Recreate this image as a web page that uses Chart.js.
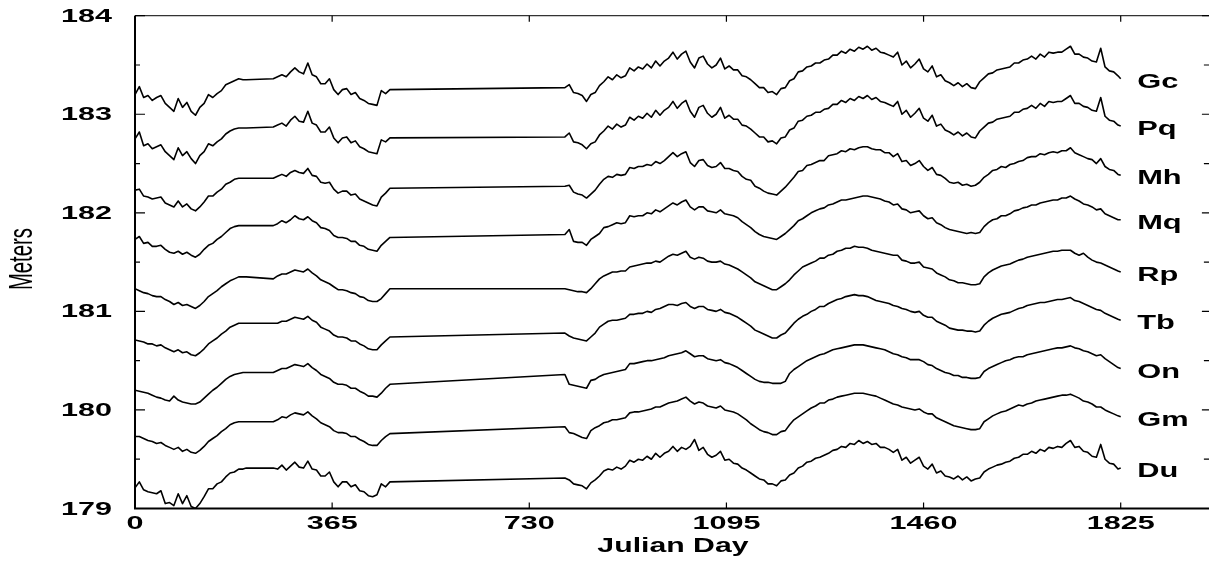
<!DOCTYPE html>
<html>
<head>
<meta charset="utf-8">
<title>Lake levels by station</title>
<script src="https://cdn.jsdelivr.net/npm/chart.js@4.4.1/dist/chart.umd.min.js"></script>
<style>
  html, body { margin: 0; padding: 0; background: #fff; overflow: hidden; }
  canvas { display: block; }
</style>
</head>
<body>
<canvas id="levels" width="1212" height="561"></canvas>
<script>
// sample days; the two holes in the record (207-255, 473-795) are bridged by straight lines
const days = [
  0, 8, 16, 24, 32, 40, 48, 56, 64, 72, 80, 88, 96, 104, 112, 120, 128, 136, 144, 152, 160, 168, 176, 184, 192, 200, 206,
  256, 264, 272, 280, 288, 296, 304, 312, 320, 328, 336, 344, 352, 360, 368, 376, 384, 392, 400, 408, 416, 424, 432, 440, 448, 456, 464, 472,
  796, 804, 812, 820, 828, 836, 844, 852, 860, 868,
  876, 884, 892, 900, 908, 916, 924, 932, 940, 948,
  956, 964, 972, 980, 988, 996, 1004, 1012, 1020, 1028,
  1036, 1044, 1052, 1060, 1068, 1076, 1084, 1092, 1100, 1108,
  1116, 1124, 1132, 1140, 1148, 1156, 1164, 1172, 1180, 1188,
  1196, 1204, 1212, 1220, 1228, 1236, 1244, 1252, 1260, 1268,
  1276, 1284, 1292, 1300, 1308, 1316, 1324, 1332, 1340, 1348,
  1356, 1364, 1372, 1380, 1388, 1396, 1404, 1412, 1420, 1428,
  1436, 1444, 1452, 1460, 1468, 1476, 1484, 1492, 1500, 1508,
  1516, 1524, 1532, 1540, 1548, 1556, 1564, 1572, 1580, 1588,
  1596, 1604, 1612, 1620, 1628, 1636, 1644, 1652, 1660, 1668,
  1676, 1684, 1692, 1700, 1708, 1716, 1724, 1732, 1740, 1748,
  1756, 1764, 1772, 1780, 1788, 1796, 1804, 1812, 1820, 1825
];

// water level in meters at each station, same sample days
const Gc = [
  183.20, 183.28, 183.17, 183.19, 183.14, 183.17, 183.19, 183.11, 183.07, 183.03, 183.16, 183.07, 183.12, 183.03, 182.99, 183.07, 183.11, 183.20, 183.17, 183.21, 183.24, 183.30, 183.32, 183.34, 183.36, 183.35, 183.35,
  183.36, 183.38, 183.40, 183.38, 183.43, 183.47, 183.43, 183.41, 183.52, 183.40, 183.38, 183.31, 183.31, 183.36, 183.25, 183.20, 183.25, 183.26, 183.20, 183.22, 183.16, 183.14, 183.11, 183.10, 183.09, 183.24, 183.21, 183.25,
  183.27, 183.30, 183.22, 183.21, 183.19, 183.13, 183.20, 183.22, 183.29, 183.33,
  183.38, 183.35, 183.40, 183.37, 183.39, 183.47, 183.44, 183.48, 183.46, 183.51,
  183.47, 183.54, 183.49, 183.54, 183.57, 183.63, 183.56, 183.61, 183.64, 183.53,
  183.47, 183.57, 183.59, 183.51, 183.47, 183.50, 183.57, 183.46, 183.49, 183.45,
  183.45, 183.39, 183.38, 183.35, 183.31, 183.27, 183.27, 183.22, 183.23, 183.20,
  183.26, 183.27, 183.34, 183.36, 183.43, 183.44, 183.48, 183.49, 183.52, 183.52,
  183.55, 183.56, 183.60, 183.60, 183.64, 183.62, 183.66, 183.64, 183.68, 183.66,
  183.69, 183.65, 183.67, 183.63, 183.62, 183.60, 183.58, 183.63, 183.50, 183.54,
  183.47, 183.51, 183.56, 183.46, 183.43, 183.49, 183.38, 183.40, 183.34, 183.32,
  183.29, 183.32, 183.28, 183.31, 183.27, 183.26, 183.33, 183.37, 183.41, 183.42,
  183.45, 183.46, 183.47, 183.48, 183.52, 183.52, 183.55, 183.56, 183.59, 183.56,
  183.61, 183.58, 183.63, 183.62, 183.63, 183.63, 183.66, 183.69, 183.61, 183.61,
  183.58, 183.57, 183.54, 183.53, 183.67, 183.48, 183.44, 183.43, 183.39, 183.36
];
const Pq = [
  182.75, 182.82, 182.68, 182.70, 182.65, 182.67, 182.69, 182.62, 182.58, 182.54, 182.66, 182.58, 182.62, 182.55, 182.50, 182.58, 182.62, 182.70, 182.68, 182.72, 182.75, 182.80, 182.83, 182.85, 182.86, 182.86, 182.86,
  182.87, 182.89, 182.91, 182.88, 182.94, 182.98, 182.93, 182.92, 183.03, 182.91, 182.89, 182.82, 182.82, 182.87, 182.76, 182.71, 182.76, 182.77, 182.71, 182.73, 182.67, 182.65, 182.62, 182.61, 182.60, 182.74, 182.72, 182.76,
  182.77, 182.81, 182.72, 182.71, 182.69, 182.65, 182.70, 182.72, 182.79, 182.83,
  182.88, 182.85, 182.90, 182.87, 182.89, 182.97, 182.94, 182.98, 182.96, 183.01,
  182.97, 183.04, 182.99, 183.04, 183.07, 183.13, 183.06, 183.11, 183.14, 183.03,
  182.97, 183.07, 183.09, 183.01, 182.97, 183.00, 183.07, 182.96, 182.99, 182.95,
  182.95, 182.89, 182.88, 182.85, 182.81, 182.77, 182.77, 182.72, 182.73, 182.70,
  182.76, 182.77, 182.84, 182.86, 182.93, 182.94, 182.98, 182.99, 183.02, 183.02,
  183.05, 183.06, 183.10, 183.10, 183.14, 183.12, 183.16, 183.14, 183.18, 183.16,
  183.19, 183.15, 183.17, 183.13, 183.12, 183.10, 183.08, 183.13, 183.00, 183.04,
  182.97, 183.01, 183.06, 182.96, 182.93, 182.99, 182.88, 182.90, 182.84, 182.82,
  182.79, 182.82, 182.78, 182.81, 182.77, 182.76, 182.83, 182.87, 182.91, 182.92,
  182.95, 182.96, 182.97, 182.98, 183.02, 183.02, 183.05, 183.06, 183.09, 183.06,
  183.11, 183.08, 183.13, 183.12, 183.13, 183.13, 183.16, 183.19, 183.11, 183.11,
  183.08, 183.07, 183.04, 183.03, 183.17, 182.98, 182.94, 182.93, 182.89, 182.88
];
const Mh = [
  182.23, 182.24, 182.17, 182.16, 182.14, 182.15, 182.16, 182.10, 182.08, 182.06, 182.12, 182.06, 182.09, 182.04, 182.02, 182.06, 182.11, 182.17, 182.17, 182.21, 182.24, 182.29, 182.31, 182.34, 182.35, 182.35, 182.35,
  182.35, 182.37, 182.39, 182.37, 182.41, 182.43, 182.41, 182.40, 182.45, 182.38, 182.37, 182.31, 182.30, 182.31, 182.24, 182.20, 182.22, 182.22, 182.18, 182.19, 182.14, 182.12, 182.10, 182.08, 182.07, 182.16, 182.20, 182.25,
  182.27, 182.28, 182.21, 182.19, 182.18, 182.15, 182.19, 182.23, 182.29, 182.34,
  182.37, 182.36, 182.39, 182.38, 182.39, 182.46, 182.45, 182.47, 182.47, 182.49,
  182.48, 182.52, 182.50, 182.53, 182.57, 182.61, 182.57, 182.60, 182.62, 182.51,
  182.47, 182.53, 182.54, 182.48, 182.46, 182.47, 182.51, 182.45, 182.45, 182.43,
  182.42, 182.37, 182.34, 182.33, 182.27, 182.25, 182.22, 182.20, 182.19, 182.18,
  182.22, 182.26, 182.31, 182.36, 182.42, 182.43, 182.48, 182.49, 182.51, 182.53,
  182.53, 182.58, 182.59, 182.60, 182.63, 182.62, 182.65, 182.64, 182.66, 182.67,
  182.67, 182.65, 182.64, 182.64, 182.61, 182.61, 182.57, 182.60, 182.52, 182.53,
  182.48, 182.50, 182.53, 182.47, 182.43, 182.46, 182.39, 182.38, 182.35, 182.31,
  182.30, 182.31, 182.28, 182.29, 182.27, 182.28, 182.31, 182.36, 182.39, 182.43,
  182.44, 182.47, 182.46, 182.49, 182.50, 182.52, 182.53, 182.56, 182.57, 182.57,
  182.60, 182.59, 182.61, 182.62, 182.61, 182.63, 182.63, 182.66, 182.61, 182.59,
  182.57, 182.55, 182.54, 182.50, 182.55, 182.47, 182.44, 182.43, 182.39, 182.38
];
const Mq = [
  181.73, 181.76, 181.69, 181.70, 181.66, 181.66, 181.67, 181.63, 181.60, 181.59, 181.61, 181.58, 181.60, 181.57, 181.55, 181.58, 181.63, 181.67, 181.69, 181.73, 181.76, 181.80, 181.84, 181.86, 181.87, 181.87, 181.87,
  181.87, 181.89, 181.92, 181.90, 181.93, 181.97, 181.94, 181.93, 181.96, 181.92, 181.90, 181.85, 181.84, 181.82, 181.77, 181.75, 181.75, 181.74, 181.71, 181.71, 181.67, 181.66, 181.63, 181.62, 181.61, 181.67, 181.71, 181.75,
  181.78, 181.83, 181.71, 181.70, 181.70, 181.67, 181.73, 181.76, 181.79, 181.85,
  181.86, 181.88, 181.90, 181.89, 181.90, 181.97, 181.96, 181.97, 181.97, 182.00,
  181.99, 182.03, 182.01, 182.04, 182.07, 182.10, 182.08, 182.11, 182.13, 182.06,
  182.03, 182.06, 182.06, 182.02, 182.01, 182.00, 182.03, 181.99, 181.98, 181.97,
  181.95, 181.91, 181.88, 181.85, 181.81, 181.78, 181.76, 181.75, 181.74, 181.73,
  181.76, 181.79, 181.83, 181.87, 181.92, 181.94, 181.97, 182.00, 182.02, 182.04,
  182.05, 182.08, 182.09, 182.11, 182.13, 182.13, 182.14, 182.15, 182.16, 182.17,
  182.17, 182.16, 182.15, 182.14, 182.12, 182.11, 182.08, 182.09, 182.04, 182.03,
  182.00, 182.01, 182.02, 181.97, 181.94, 181.95, 181.90, 181.88, 181.85, 181.83,
  181.82, 181.81, 181.80, 181.79, 181.80, 181.79, 181.80, 181.86, 181.90, 181.93,
  181.94, 181.97, 181.97, 181.99, 182.02, 182.03, 182.05, 182.06, 182.08, 182.08,
  182.10, 182.11, 182.12, 182.13, 182.13, 182.15, 182.15, 182.17, 182.14, 182.12,
  182.09, 182.08, 182.06, 182.03, 182.04, 181.99, 181.97, 181.95, 181.93, 181.93
];
const Rp = [
  181.23, 181.21, 181.19, 181.18, 181.16, 181.15, 181.15, 181.12, 181.10, 181.07, 181.09, 181.06, 181.07, 181.05, 181.03, 181.06, 181.10, 181.15, 181.18, 181.21, 181.25, 181.28, 181.31, 181.33, 181.35, 181.35, 181.35,
  181.33, 181.36, 181.38, 181.38, 181.40, 181.42, 181.41, 181.40, 181.43, 181.39, 181.36, 181.32, 181.30, 181.28, 181.25, 181.22, 181.22, 181.21, 181.19, 181.18, 181.15, 181.14, 181.11, 181.10, 181.10, 181.13, 181.18, 181.23,
  181.23, 181.22, 181.21, 181.20, 181.20, 181.19, 181.23, 181.28, 181.33, 181.36,
  181.38, 181.40, 181.40, 181.41, 181.41, 181.45, 181.46, 181.47, 181.48, 181.49,
  181.49, 181.51, 181.50, 181.53, 181.56, 181.58, 181.57, 181.59, 181.61, 181.55,
  181.53, 181.55, 181.54, 181.51, 181.50, 181.50, 181.51, 181.48, 181.47, 181.45,
  181.43, 181.40, 181.37, 181.34, 181.30, 181.28, 181.26, 181.24, 181.22, 181.22,
  181.25, 181.28, 181.32, 181.37, 181.41, 181.45, 181.47, 181.49, 181.51, 181.54,
  181.54, 181.57, 181.58, 181.61, 181.62, 181.64, 181.64, 181.66, 181.65, 181.65,
  181.64, 181.62, 181.61, 181.60, 181.59, 181.58, 181.57, 181.57, 181.52, 181.51,
  181.49, 181.49, 181.50, 181.45, 181.44, 181.43, 181.39, 181.37, 181.35, 181.32,
  181.31, 181.29, 181.29, 181.28, 181.27, 181.27, 181.28, 181.35, 181.39, 181.42,
  181.44, 181.46, 181.47, 181.48, 181.50, 181.52, 181.53, 181.55, 181.56, 181.57,
  181.58, 181.59, 181.60, 181.61, 181.61, 181.62, 181.62, 181.62, 181.59, 181.57,
  181.59, 181.55, 181.52, 181.50, 181.49, 181.47, 181.45, 181.43, 181.41, 181.40
];
const Tb = [
  180.71, 180.70, 180.69, 180.67, 180.67, 180.65, 180.66, 180.63, 180.61, 180.59, 180.61, 180.58, 180.59, 180.56, 180.55, 180.58, 180.62, 180.67, 180.70, 180.73, 180.77, 180.80, 180.84, 180.86, 180.88, 180.88, 180.88,
  180.88, 180.88, 180.90, 180.90, 180.92, 180.94, 180.93, 180.92, 180.95, 180.91, 180.89, 180.84, 180.82, 180.80, 180.76, 180.74, 180.74, 180.73, 180.70, 180.70, 180.67, 180.65, 180.62, 180.61, 180.61, 180.66, 180.70, 180.74,
  180.78, 180.75, 180.73, 180.72, 180.71, 180.70, 180.74, 180.78, 180.84, 180.87,
  180.90, 180.91, 180.91, 180.92, 180.93, 180.97, 180.97, 180.98, 180.98, 181.00,
  180.99, 181.02, 181.03, 181.05, 181.07, 181.07, 181.06, 181.08, 181.09, 181.05,
  181.03, 181.05, 181.05, 181.02, 181.01, 181.00, 181.02, 180.99, 180.98, 180.96,
  180.94, 180.91, 180.88, 180.85, 180.81, 180.79, 180.77, 180.75, 180.73, 180.73,
  180.76, 180.78, 180.83, 180.88, 180.92, 180.95, 180.97, 181.00, 181.02, 181.05,
  181.05, 181.08, 181.10, 181.12, 181.13, 181.15, 181.16, 181.17, 181.16, 181.16,
  181.15, 181.13, 181.11, 181.10, 181.09, 181.08, 181.06, 181.05, 181.03, 181.02,
  181.00, 180.99, 181.00, 180.96, 180.94, 180.94, 180.90, 180.88, 180.86, 180.83,
  180.82, 180.81, 180.81, 180.80, 180.80, 180.79, 180.80, 180.86, 180.90, 180.93,
  180.95, 180.97, 180.98, 180.99, 181.01, 181.03, 181.04, 181.06, 181.07, 181.08,
  181.09, 181.09, 181.10, 181.11, 181.12, 181.12, 181.13, 181.14, 181.11, 181.10,
  181.08, 181.06, 181.04, 181.02, 181.01, 180.98, 180.96, 180.94, 180.92, 180.91
];
const On = [
  180.20, 180.19, 180.18, 180.17, 180.15, 180.13, 180.12, 180.10, 180.09, 180.14, 180.10, 180.08, 180.07, 180.06, 180.06, 180.08, 180.12, 180.16, 180.20, 180.23, 180.27, 180.31, 180.34, 180.36, 180.37, 180.38, 180.38,
  180.38, 180.40, 180.42, 180.42, 180.44, 180.46, 180.45, 180.44, 180.47, 180.43, 180.40, 180.36, 180.34, 180.32, 180.28, 180.26, 180.26, 180.25, 180.22, 180.22, 180.19, 180.17, 180.14, 180.14, 180.13, 180.17, 180.22, 180.26,
  180.36, 180.26, 180.25, 180.24, 180.23, 180.22, 180.30, 180.31, 180.34, 180.36,
  180.37, 180.38, 180.39, 180.40, 180.41, 180.47, 180.47, 180.48, 180.49, 180.50,
  180.50, 180.51, 180.52, 180.53, 180.55, 180.56, 180.57, 180.58, 180.60, 180.57,
  180.54, 180.55, 180.55, 180.52, 180.51, 180.50, 180.51, 180.48, 180.47, 180.45,
  180.43, 180.40, 180.37, 180.34, 180.31, 180.29, 180.28, 180.28, 180.27, 180.27,
  180.27, 180.29, 180.37, 180.41, 180.44, 180.47, 180.50, 180.52, 180.54, 180.56,
  180.57, 180.59, 180.61, 180.62, 180.63, 180.64, 180.65, 180.66, 180.66, 180.66,
  180.65, 180.64, 180.63, 180.62, 180.61, 180.59, 180.57, 180.56, 180.54, 180.53,
  180.51, 180.51, 180.51, 180.49, 180.46, 180.45, 180.42, 180.40, 180.38, 180.37,
  180.35, 180.35, 180.33, 180.33, 180.32, 180.32, 180.33, 180.39, 180.42, 180.44,
  180.46, 180.48, 180.50, 180.51, 180.53, 180.54, 180.54, 180.56, 180.57, 180.58,
  180.59, 180.60, 180.61, 180.62, 180.63, 180.63, 180.64, 180.65, 180.63, 180.62,
  180.60, 180.59, 180.57, 180.55, 180.56, 180.52, 180.49, 180.46, 180.43, 180.42
];
const Gm = [
  179.73, 179.73, 179.71, 179.69, 179.68, 179.66, 179.67, 179.64, 179.62, 179.60, 179.62, 179.58, 179.60, 179.57, 179.56, 179.59, 179.63, 179.68, 179.71, 179.74, 179.78, 179.81, 179.85, 179.87, 179.88, 179.88, 179.88,
  179.88, 179.90, 179.93, 179.92, 179.95, 179.97, 179.96, 179.95, 179.98, 179.94, 179.91, 179.87, 179.85, 179.83, 179.79, 179.77, 179.77, 179.76, 179.73, 179.73, 179.70, 179.68, 179.65, 179.64, 179.64, 179.69, 179.73, 179.76,
  179.83, 179.77, 179.76, 179.74, 179.72, 179.71, 179.79, 179.82, 179.84, 179.87,
  179.88, 179.90, 179.90, 179.91, 179.92, 179.97, 179.98, 179.98, 179.99, 180.00,
  180.01, 180.03, 180.03, 180.05, 180.07, 180.08, 180.09, 180.11, 180.13, 180.09,
  180.06, 180.08, 180.07, 180.04, 180.03, 180.02, 180.04, 180.00, 179.99, 179.98,
  179.96, 179.93, 179.90, 179.86, 179.83, 179.80, 179.78, 179.77, 179.75, 179.75,
  179.78, 179.79, 179.85, 179.90, 179.93, 179.96, 179.99, 180.02, 180.04, 180.07,
  180.07, 180.10, 180.11, 180.13, 180.14, 180.15, 180.16, 180.17, 180.17, 180.17,
  180.16, 180.15, 180.14, 180.12, 180.10, 180.08, 180.06, 180.05, 180.03, 180.02,
  180.01, 180.00, 180.01, 179.98, 179.96, 179.96, 179.92, 179.90, 179.88, 179.86,
  179.84, 179.83, 179.82, 179.81, 179.80, 179.80, 179.81, 179.88, 179.91, 179.94,
  179.96, 179.98, 179.99, 180.01, 180.03, 180.05, 180.04, 180.06, 180.07, 180.09,
  180.10, 180.11, 180.12, 180.13, 180.14, 180.15, 180.15, 180.16, 180.14, 180.12,
  180.09, 180.08, 180.06, 180.03, 180.03, 180.00, 179.98, 179.96, 179.94, 179.93
];
const Du = [
  179.21, 179.27, 179.19, 179.17, 179.16, 179.15, 179.18, 179.05, 179.06, 179.03, 179.15, 179.05, 179.13, 179.02, 179.00, 179.05, 179.12, 179.20, 179.20, 179.25, 179.27, 179.32, 179.36, 179.37, 179.40, 179.40, 179.41,
  179.41, 179.40, 179.44, 179.39, 179.43, 179.47, 179.42, 179.41, 179.48, 179.40, 179.39, 179.33, 179.33, 179.37, 179.27, 179.22, 179.27, 179.27, 179.22, 179.24, 179.18, 179.17, 179.13, 179.12, 179.14, 179.25, 179.22, 179.27,
  179.31, 179.29, 179.25, 179.24, 179.23, 179.20, 179.26, 179.29, 179.33, 179.38,
  179.40, 179.39, 179.42, 179.40, 179.43, 179.49, 179.47, 179.50, 179.49, 179.53,
  179.50, 179.56, 179.52, 179.56, 179.58, 179.63, 179.58, 179.62, 179.60, 179.63,
  179.70, 179.59, 179.62, 179.55, 179.52, 179.54, 179.58, 179.49, 179.50, 179.46,
  179.45, 179.41, 179.39, 179.36, 179.33, 179.30, 179.29, 179.25, 179.25, 179.23,
  179.28, 179.29, 179.34, 179.36, 179.41, 179.43, 179.47, 179.48, 179.51, 179.52,
  179.54, 179.56, 179.59, 179.60, 179.63, 179.62, 179.66, 179.65, 179.69, 179.66,
  179.68, 179.65, 179.66, 179.62, 179.62, 179.60, 179.57, 179.60, 179.49, 179.52,
  179.46, 179.49, 179.52, 179.43, 179.40, 179.45, 179.36, 179.38, 179.33, 179.32,
  179.30, 179.33, 179.29, 179.32, 179.28, 179.30, 179.31, 179.37, 179.40, 179.42,
  179.44, 179.45, 179.47, 179.48, 179.51, 179.52, 179.55, 179.55, 179.58, 179.56,
  179.60, 179.58, 179.62, 179.61, 179.63, 179.62, 179.66, 179.69, 179.62, 179.63,
  179.58, 179.57, 179.53, 179.52, 179.65, 179.50, 179.46, 179.45, 179.40, 179.41
];

const stations = ['Gc', 'Pq', 'Mh', 'Mq', 'Rp', 'Tb', 'On', 'Gm', 'Du'];
const levels = [Gc, Pq, Mh, Mq, Rp, Tb, On, Gm, Du];
const dayTicks = [0, 365, 730, 1095, 1460, 1825];
const meterTicks = [179, 180, 181, 182, 183, 184];
const halfMeterTicks = [179.5, 180.5, 181.5, 182.5, 183.5];

levels.forEach((s, i) => {
  if (s.length !== days.length) console.error(stations[i] + ': ' + s.length + ' values, ' + days.length + ' days');
});

const ink = '#000';
const face = '"Liberation Sans", Arial, Helvetica, sans-serif';

// the lettering is an extended sans, so it is drawn stretched sideways
function wideText(ctx, str, x, y, size, stretch, align, baseline) {
  ctx.save();
  ctx.font = 'bold ' + size + 'px ' + face;
  ctx.fillStyle = ink;
  ctx.textAlign = align;
  ctx.textBaseline = baseline;
  ctx.translate(x, y);
  ctx.scale(stretch, 1);
  ctx.fillText(str, 0, 0);
  ctx.restore();
}

const printedAxes = {
  id: 'printedAxes',
  afterDatasetsDraw(chart) {
    const { ctx, chartArea: a, scales: { x, y } } = chart;

    ctx.save();
    ctx.lineCap = 'butt';
    // heavy left and bottom axes
    ctx.strokeStyle = ink;
    ctx.lineWidth = 2;
    ctx.beginPath();
    ctx.moveTo(a.left, a.top);
    ctx.lineTo(a.left, a.bottom);
    ctx.lineTo(a.right, a.bottom);
    ctx.stroke();
    // lighter top and right edges
    ctx.strokeStyle = '#333';
    ctx.lineWidth = 1.2;
    ctx.beginPath();
    ctx.moveTo(a.left, a.top);
    ctx.lineTo(a.right, a.top);
    ctx.lineTo(a.right, a.bottom);
    ctx.stroke();

    // tick marks point into the plot
    ctx.strokeStyle = ink;
    ctx.lineWidth = 1.2;
    ctx.beginPath();
    dayTicks.forEach(d => {
      const px = x.getPixelForValue(d);
      ctx.moveTo(px, a.bottom);
      ctx.lineTo(px, a.bottom - 6);
      ctx.moveTo(px, a.top);
      ctx.lineTo(px, a.top + 6);
    });
    meterTicks.forEach(m => {
      const py = y.getPixelForValue(m);
      ctx.moveTo(a.left, py);
      ctx.lineTo(a.left + 10, py);
      ctx.moveTo(a.right, py);
      ctx.lineTo(a.right - 9, py);
    });
    halfMeterTicks.forEach(m => {
      const py = y.getPixelForValue(m);
      ctx.moveTo(a.left, py);
      ctx.lineTo(a.left + 5, py);
      ctx.moveTo(a.right, py);
      ctx.lineTo(a.right - 7, py);
    });
    ctx.stroke();
    ctx.restore();

    meterTicks.forEach(m => wideText(ctx, String(m), a.left - 23, y.getPixelForValue(m) + 1, 18.5, 1.65, 'right', 'middle'));
    dayTicks.forEach(d => wideText(ctx, String(d), x.getPixelForValue(d), a.bottom + 20, 18.5, 1.65, 'center', 'alphabetic'));
    wideText(ctx, 'Julian Day', (a.left + a.right) / 2, a.bottom + 43.5, 19.5, 1.55, 'center', 'alphabetic');

    // station name beside the last reading of each record
    const lastDay = days[days.length - 1];
    stations.forEach((name, i) => {
      const s = levels[i];
      wideText(ctx, name, x.getPixelForValue(lastDay) + 16.5, y.getPixelForValue(s[s.length - 1]) + 9, 19.5, 1.58, 'left', 'alphabetic');
    });

    // y title uses a narrow, tall cut
    ctx.save();
    ctx.font = '34px ' + face;
    ctx.fillStyle = ink;
    ctx.textAlign = 'center';
    ctx.textBaseline = 'alphabetic';
    ctx.translate(32, (a.top + a.bottom) / 2 - 3);
    ctx.rotate(-Math.PI / 2);
    ctx.scale(62 / ctx.measureText('Meters').width, 1);
    ctx.fillText('Meters', 0, 0);
    ctx.restore();
  }
};

new Chart(document.getElementById('levels'), {
  type: 'line',
  data: {
    datasets: stations.map((name, i) => ({
      label: name,
      data: days.map((d, j) => ({ x: d, y: levels[i][j] })),
      borderColor: ink,
      borderWidth: 1.6,
      borderJoinStyle: 'round',
      pointRadius: 0,
      tension: 0,
      fill: false
    }))
  },
  options: {
    responsive: false,
    animation: false,
    events: [],
    layout: { padding: { left: 135, right: 1.1, top: 15.7, bottom: 52.5 } },
    plugins: { legend: { display: false }, tooltip: { enabled: false } },
    scales: {
      x: { type: 'linear', min: 0, max: 1992, display: false },
      y: { type: 'linear', min: 179, max: 184, display: false }
    }
  },
  plugins: [printedAxes]
});
</script>
</body>
</html>
